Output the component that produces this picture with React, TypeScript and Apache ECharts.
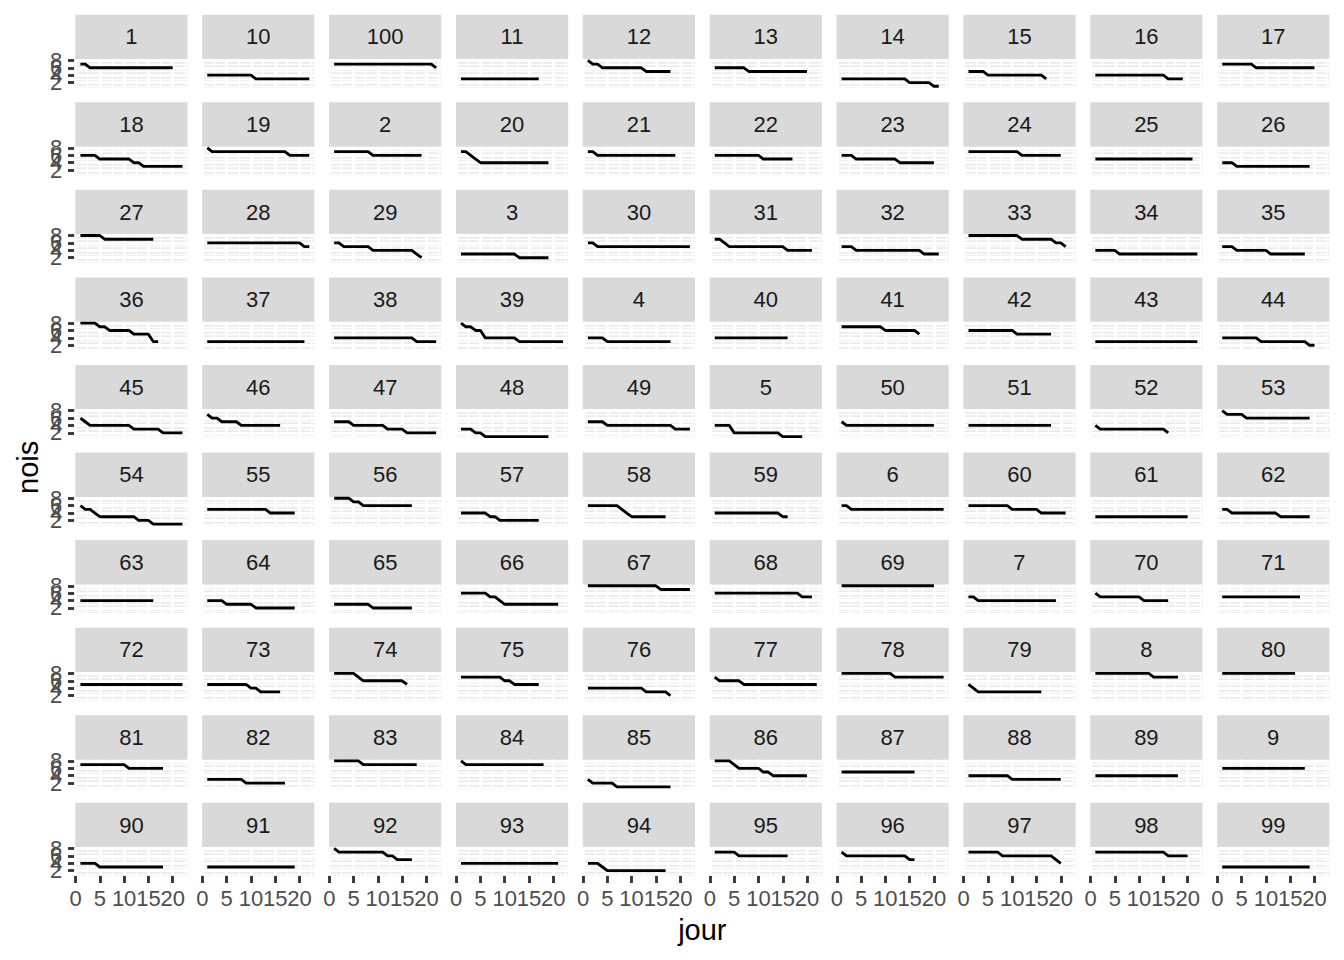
import React, { useEffect, useRef } from "react";
import * as echarts from "echarts";

// ---- data ----
const jours = [1, 2, 3, 4, 5, 6, 7, 8, 9, 10, 11, 12, 13, 14, 15, 16, 17, 18, 19, 20, 21, 22];
const individus = [
  "1", "10", "100", "11", "12", "13", "14", "15", "16", "17",
  "18", "19", "2", "20", "21", "22", "23", "24", "25", "26",
  "27", "28", "29", "3", "30", "31", "32", "33", "34", "35",
  "36", "37", "38", "39", "4", "40", "41", "42", "43", "44",
  "45", "46", "47", "48", "49", "5", "50", "51", "52", "53",
  "54", "55", "56", "57", "58", "59", "6", "60", "61", "62",
  "63", "64", "65", "66", "67", "68", "69", "7", "70", "71",
  "72", "73", "74", "75", "76", "77", "78", "79", "8", "80",
  "81", "82", "83", "84", "85", "86", "87", "88", "89", "9",
  "90", "91", "92", "93", "94", "95", "96", "97", "98", "99",
];
const xTicks = [0, 5, 10, 15, 20];
const xMinor = [2.5, 7.5, 12.5, 17.5, 22.5];
const yTicks = [2, 4, 6, 8];
const yMinor = [1, 3, 5, 7];

const n1 = [7, 7, 6, 6, 6, 6, 6, 6, 6, 6, 6, 6, 6, 6, 6, 6, 6, 6, 6, 6];
const n10 = [4, 4, 4, 4, 4, 4, 4, 4, 4, 4, 3, 3, 3, 3, 3, 3, 3, 3, 3, 3, 3, 3];
const n100 = [7, 7, 7, 7, 7, 7, 7, 7, 7, 7, 7, 7, 7, 7, 7, 7, 7, 7, 7, 7, 7, 6];
const n11 = [3, 3, 3, 3, 3, 3, 3, 3, 3, 3, 3, 3, 3, 3, 3, 3, 3];
const n12 = [8, 7, 7, 6, 6, 6, 6, 6, 6, 6, 6, 6, 5, 5, 5, 5, 5, 5];
const n13 = [6, 6, 6, 6, 6, 6, 6, 5, 5, 5, 5, 5, 5, 5, 5, 5, 5, 5, 5, 5];
const n14 = [3, 3, 3, 3, 3, 3, 3, 3, 3, 3, 3, 3, 3, 3, 2, 2, 2, 2, 2, 1, 1];
const n15 = [5, 5, 5, 5, 4, 4, 4, 4, 4, 4, 4, 4, 4, 4, 4, 4, 3];
const n16 = [4, 4, 4, 4, 4, 4, 4, 4, 4, 4, 4, 4, 4, 4, 4, 3, 3, 3, 3];
const n17 = [7, 7, 7, 7, 7, 7, 7, 6, 6, 6, 6, 6, 6, 6, 6, 6, 6, 6, 6, 6];
const n18 = [6, 6, 6, 6, 5, 5, 5, 5, 5, 5, 5, 4, 4, 3, 3, 3, 3, 3, 3, 3, 3, 3];
const n19 = [8, 7, 7, 7, 7, 7, 7, 7, 7, 7, 7, 7, 7, 7, 7, 7, 7, 6, 6, 6, 6, 6];
const n2 = [7, 7, 7, 7, 7, 7, 7, 7, 6, 6, 6, 6, 6, 6, 6, 6, 6, 6, 6];
const n20 = [7, 7, 6, 5, 4, 4, 4, 4, 4, 4, 4, 4, 4, 4, 4, 4, 4, 4, 4];
const n21 = [7, 7, 6, 6, 6, 6, 6, 6, 6, 6, 6, 6, 6, 6, 6, 6, 6, 6, 6];
const n22 = [6, 6, 6, 6, 6, 6, 6, 6, 6, 6, 5, 5, 5, 5, 5, 5, 5];
const n23 = [6, 6, 6, 5, 5, 5, 5, 5, 5, 5, 5, 5, 4, 4, 4, 4, 4, 4, 4, 4];
const n24 = [7, 7, 7, 7, 7, 7, 7, 7, 7, 7, 7, 6, 6, 6, 6, 6, 6, 6, 6, 6];
const n25 = [5, 5, 5, 5, 5, 5, 5, 5, 5, 5, 5, 5, 5, 5, 5, 5, 5, 5, 5, 5, 5];
const n26 = [4, 4, 4, 3, 3, 3, 3, 3, 3, 3, 3, 3, 3, 3, 3, 3, 3, 3, 3];
const n27 = [8, 8, 8, 8, 8, 7, 7, 7, 7, 7, 7, 7, 7, 7, 7, 7];
const n28 = [6, 6, 6, 6, 6, 6, 6, 6, 6, 6, 6, 6, 6, 6, 6, 6, 6, 6, 6, 6, 5, 5];
const n29 = [6, 6, 5, 5, 5, 5, 5, 5, 4, 4, 4, 4, 4, 4, 4, 4, 4, 3, 2];
const n3 = [3, 3, 3, 3, 3, 3, 3, 3, 3, 3, 3, 3, 2, 2, 2, 2, 2, 2, 2];
const n30 = [6, 6, 5, 5, 5, 5, 5, 5, 5, 5, 5, 5, 5, 5, 5, 5, 5, 5, 5, 5, 5, 5];
const n31 = [7, 7, 6, 5, 5, 5, 5, 5, 5, 5, 5, 5, 5, 5, 5, 4, 4, 4, 4, 4, 4];
const n32 = [5, 5, 5, 4, 4, 4, 4, 4, 4, 4, 4, 4, 4, 4, 4, 4, 4, 3, 3, 3, 3];
const n33 = [8, 8, 8, 8, 8, 8, 8, 8, 8, 8, 8, 7, 7, 7, 7, 7, 7, 7, 6, 6, 5];
const n34 = [4, 4, 4, 4, 4, 3, 3, 3, 3, 3, 3, 3, 3, 3, 3, 3, 3, 3, 3, 3, 3, 3];
const n35 = [5, 5, 5, 4, 4, 4, 4, 4, 4, 4, 3, 3, 3, 3, 3, 3, 3, 3];
const n36 = [8, 8, 8, 8, 7, 7, 6, 6, 6, 6, 6, 5, 5, 5, 5, 3, 3];
const n37 = [3, 3, 3, 3, 3, 3, 3, 3, 3, 3, 3, 3, 3, 3, 3, 3, 3, 3, 3, 3, 3];
const n38 = [4, 4, 4, 4, 4, 4, 4, 4, 4, 4, 4, 4, 4, 4, 4, 4, 4, 3, 3, 3, 3, 3];
const n39 = [8, 7, 7, 6, 6, 4, 4, 4, 4, 4, 4, 4, 3, 3, 3, 3, 3, 3, 3, 3, 3, 3];
const n4 = [4, 4, 4, 4, 3, 3, 3, 3, 3, 3, 3, 3, 3, 3, 3, 3, 3, 3];
const n40 = [4, 4, 4, 4, 4, 4, 4, 4, 4, 4, 4, 4, 4, 4, 4, 4];
const n41 = [7, 7, 7, 7, 7, 7, 7, 7, 7, 6, 6, 6, 6, 6, 6, 6, 5];
const n42 = [6, 6, 6, 6, 6, 6, 6, 6, 6, 6, 5, 5, 5, 5, 5, 5, 5, 5];
const n43 = [3, 3, 3, 3, 3, 3, 3, 3, 3, 3, 3, 3, 3, 3, 3, 3, 3, 3, 3, 3, 3, 3];
const n44 = [4, 4, 4, 4, 4, 4, 4, 4, 3, 3, 3, 3, 3, 3, 3, 3, 3, 3, 2, 2];
const n45 = [6, 5, 4, 4, 4, 4, 4, 4, 4, 4, 4, 3, 3, 3, 3, 3, 3, 2, 2, 2, 2, 2];
const n46 = [7, 6, 6, 5, 5, 5, 5, 4, 4, 4, 4, 4, 4, 4, 4, 4];
const n47 = [5, 5, 5, 5, 4, 4, 4, 4, 4, 4, 4, 3, 3, 3, 3, 2, 2, 2, 2, 2, 2, 2];
const n48 = [3, 3, 3, 2, 2, 1, 1, 1, 1, 1, 1, 1, 1, 1, 1, 1, 1, 1, 1];
const n49 = [5, 5, 5, 5, 4, 4, 4, 4, 4, 4, 4, 4, 4, 4, 4, 4, 4, 4, 3, 3, 3, 3];
const n5 = [4, 4, 4, 4, 2, 2, 2, 2, 2, 2, 2, 2, 2, 2, 1, 1, 1, 1, 1];
const n50 = [5, 4, 4, 4, 4, 4, 4, 4, 4, 4, 4, 4, 4, 4, 4, 4, 4, 4, 4, 4];
const n51 = [4, 4, 4, 4, 4, 4, 4, 4, 4, 4, 4, 4, 4, 4, 4, 4, 4, 4];
const n52 = [4, 3, 3, 3, 3, 3, 3, 3, 3, 3, 3, 3, 3, 3, 3, 2];
const n53 = [8, 7, 7, 7, 7, 6, 6, 6, 6, 6, 6, 6, 6, 6, 6, 6, 6, 6, 6];
const n54 = [6, 5, 5, 4, 3, 3, 3, 3, 3, 3, 3, 3, 2, 2, 2, 1, 1, 1, 1, 1, 1, 1];
const n55 = [5, 5, 5, 5, 5, 5, 5, 5, 5, 5, 5, 5, 5, 4, 4, 4, 4, 4, 4];
const n56 = [8, 8, 8, 8, 7, 7, 6, 6, 6, 6, 6, 6, 6, 6, 6, 6, 6];
const n57 = [4, 4, 4, 4, 4, 4, 3, 3, 2, 2, 2, 2, 2, 2, 2, 2, 2];
const n58 = [6, 6, 6, 6, 6, 6, 6, 5, 4, 3, 3, 3, 3, 3, 3, 3, 3];
const n59 = [4, 4, 4, 4, 4, 4, 4, 4, 4, 4, 4, 4, 4, 4, 3, 3];
const n6 = [6, 6, 5, 5, 5, 5, 5, 5, 5, 5, 5, 5, 5, 5, 5, 5, 5, 5, 5, 5, 5, 5];
const n60 = [6, 6, 6, 6, 6, 6, 6, 6, 6, 5, 5, 5, 5, 5, 5, 4, 4, 4, 4, 4, 4];
const n61 = [3, 3, 3, 3, 3, 3, 3, 3, 3, 3, 3, 3, 3, 3, 3, 3, 3, 3, 3, 3];
const n62 = [5, 5, 4, 4, 4, 4, 4, 4, 4, 4, 4, 4, 3, 3, 3, 3, 3, 3, 3];
const n63 = [4, 4, 4, 4, 4, 4, 4, 4, 4, 4, 4, 4, 4, 4, 4, 4];
const n64 = [4, 4, 4, 4, 3, 3, 3, 3, 3, 3, 2, 2, 2, 2, 2, 2, 2, 2, 2];
const n65 = [3, 3, 3, 3, 3, 3, 3, 3, 2, 2, 2, 2, 2, 2, 2, 2, 2];
const n66 = [6, 6, 6, 6, 6, 6, 5, 5, 4, 3, 3, 3, 3, 3, 3, 3, 3, 3, 3, 3, 3];
const n67 = [8, 8, 8, 8, 8, 8, 8, 8, 8, 8, 8, 8, 8, 8, 8, 7, 7, 7, 7, 7, 7, 7];
const n68 = [6, 6, 6, 6, 6, 6, 6, 6, 6, 6, 6, 6, 6, 6, 6, 6, 6, 6, 5, 5, 5];
const n69 = [8, 8, 8, 8, 8, 8, 8, 8, 8, 8, 8, 8, 8, 8, 8, 8, 8, 8, 8, 8];
const n7 = [5, 5, 4, 4, 4, 4, 4, 4, 4, 4, 4, 4, 4, 4, 4, 4, 4, 4, 4];
const n70 = [6, 5, 5, 5, 5, 5, 5, 5, 5, 5, 4, 4, 4, 4, 4, 4];
const n71 = [5, 5, 5, 5, 5, 5, 5, 5, 5, 5, 5, 5, 5, 5, 5, 5, 5];
const n72 = [5, 5, 5, 5, 5, 5, 5, 5, 5, 5, 5, 5, 5, 5, 5, 5, 5, 5, 5, 5, 5, 5];
const n73 = [5, 5, 5, 5, 5, 5, 5, 5, 5, 4, 4, 3, 3, 3, 3, 3];
const n74 = [8, 8, 8, 8, 8, 7, 6, 6, 6, 6, 6, 6, 6, 6, 6, 5];
const n75 = [7, 7, 7, 7, 7, 7, 7, 7, 7, 6, 6, 5, 5, 5, 5, 5, 5];
const n76 = [4, 4, 4, 4, 4, 4, 4, 4, 4, 4, 4, 4, 3, 3, 3, 3, 3, 2];
const n77 = [7, 6, 6, 6, 6, 6, 5, 5, 5, 5, 5, 5, 5, 5, 5, 5, 5, 5, 5, 5, 5, 5];
const n78 = [8, 8, 8, 8, 8, 8, 8, 8, 8, 8, 8, 7, 7, 7, 7, 7, 7, 7, 7, 7, 7, 7];
const n79 = [5, 4, 3, 3, 3, 3, 3, 3, 3, 3, 3, 3, 3, 3, 3, 3];
const n8 = [8, 8, 8, 8, 8, 8, 8, 8, 8, 8, 8, 8, 7, 7, 7, 7, 7, 7];
const n80 = [8, 8, 8, 8, 8, 8, 8, 8, 8, 8, 8, 8, 8, 8, 8, 8];
const n81 = [7, 7, 7, 7, 7, 7, 7, 7, 7, 7, 6, 6, 6, 6, 6, 6, 6, 6];
const n82 = [3, 3, 3, 3, 3, 3, 3, 3, 2, 2, 2, 2, 2, 2, 2, 2, 2];
const n83 = [8, 8, 8, 8, 8, 8, 7, 7, 7, 7, 7, 7, 7, 7, 7, 7, 7, 7];
const n84 = [8, 7, 7, 7, 7, 7, 7, 7, 7, 7, 7, 7, 7, 7, 7, 7, 7, 7];
const n85 = [3, 2, 2, 2, 2, 2, 1, 1, 1, 1, 1, 1, 1, 1, 1, 1, 1, 1];
const n86 = [8, 8, 8, 8, 7, 6, 6, 6, 6, 6, 5, 5, 4, 4, 4, 4, 4, 4, 4, 4];
const n87 = [5, 5, 5, 5, 5, 5, 5, 5, 5, 5, 5, 5, 5, 5, 5, 5];
const n88 = [4, 4, 4, 4, 4, 4, 4, 4, 4, 3, 3, 3, 3, 3, 3, 3, 3, 3, 3, 3];
const n89 = [4, 4, 4, 4, 4, 4, 4, 4, 4, 4, 4, 4, 4, 4, 4, 4, 4, 4];
const n9 = [6, 6, 6, 6, 6, 6, 6, 6, 6, 6, 6, 6, 6, 6, 6, 6, 6, 6];
const n90 = [4, 4, 4, 4, 3, 3, 3, 3, 3, 3, 3, 3, 3, 3, 3, 3, 3, 3];
const n91 = [3, 3, 3, 3, 3, 3, 3, 3, 3, 3, 3, 3, 3, 3, 3, 3, 3, 3, 3];
const n92 = [8, 7, 7, 7, 7, 7, 7, 7, 7, 7, 7, 6, 6, 5, 5, 5, 5];
const n93 = [4, 4, 4, 4, 4, 4, 4, 4, 4, 4, 4, 4, 4, 4, 4, 4, 4, 4, 4, 4, 4];
const n94 = [4, 4, 4, 3, 2, 2, 2, 2, 2, 2, 2, 2, 2, 2, 2, 2, 2];
const n95 = [7, 7, 7, 7, 7, 6, 6, 6, 6, 6, 6, 6, 6, 6, 6, 6];
const n96 = [7, 6, 6, 6, 6, 6, 6, 6, 6, 6, 6, 6, 6, 6, 5, 5];
const n97 = [7, 7, 7, 7, 7, 7, 7, 6, 6, 6, 6, 6, 6, 6, 6, 6, 6, 6, 5, 4];
const n98 = [7, 7, 7, 7, 7, 7, 7, 7, 7, 7, 7, 7, 7, 7, 7, 6, 6, 6, 6, 6];
const n99 = [3, 3, 3, 3, 3, 3, 3, 3, 3, 3, 3, 3, 3, 3, 3, 3, 3, 3, 3];

const noisParIndividu = [
  n1, n10, n100, n11, n12, n13, n14, n15, n16, n17,
  n18, n19, n2, n20, n21, n22, n23, n24, n25, n26,
  n27, n28, n29, n3, n30, n31, n32, n33, n34, n35,
  n36, n37, n38, n39, n4, n40, n41, n42, n43, n44,
  n45, n46, n47, n48, n49, n5, n50, n51, n52, n53,
  n54, n55, n56, n57, n58, n59, n6, n60, n61, n62,
  n63, n64, n65, n66, n67, n68, n69, n7, n70, n71,
  n72, n73, n74, n75, n76, n77, n78, n79, n8, n80,
  n81, n82, n83, n84, n85, n86, n87, n88, n89, n9,
  n90, n91, n92, n93, n94, n95, n96, n97, n98, n99,
];

// ---- layout ----
const NCOL = 10;
const PANEL_LEFT = 75.3;
const PANEL_W = 112.2;
const GAP = 14.67;
const TOP = 14.67;
const STRIP_H = 44.4;
const PANEL_H = 28.5;
const X_MIN = -0.05;
const X_MAX = 23.05;
const Y_MIN = 0.65;
const Y_MAX = 8.35;
const FONT = '"Liberation Sans", Arial, Helvetica, sans-serif';
const MAJOR_W = 2.84;
const MINOR_W = 1.42;

export default function App() {
  const ref = useRef<HTMLDivElement>(null);
  useEffect(() => {
    document.body.style.margin = "0";
    const chart = echarts.init(ref.current!, null, { renderer: "svg" });
    const grids: any[] = [];
    const xAxes: any[] = [];
    const yAxes: any[] = [];
    const series: any[] = [];
    const graphics: any[] = [];
    const nRows = Math.ceil(individus.length / NCOL);

    individus.forEach((id, i) => {
      const r = Math.floor(i / NCOL);
      const c = i % NCOL;
      const left = PANEL_LEFT + c * (PANEL_W + GAP);
      const stripTop = TOP + r * (STRIP_H + PANEL_H + GAP);
      const top = stripTop + STRIP_H;
      const bottomRow = r === nRows - 1;
      grids.push({
        left,
        top,
        width: PANEL_W,
        height: PANEL_H,
        show: true,
        backgroundColor: "#EBEBEB",
        borderWidth: 0,
        containLabel: false,
        outerBoundsMode: "none",
      });
      xAxes.push({
        type: "value",
        gridIndex: i,
        min: X_MIN,
        max: X_MAX,
        axisLine: { show: false },
        splitLine: { show: false },
        axisTick: {
          show: bottomRow,
          customValues: xTicks,
          length: 7.3,
          lineStyle: { color: "#333333", width: MAJOR_W },
        },
        axisLabel: {
          show: bottomRow,
          customValues: xTicks,
          margin: 12,
          color: "#4D4D4D",
          fontSize: 22,
          fontFamily: FONT,
          showMinLabel: true,
          showMaxLabel: true,
          hideOverlap: false,
        },
      });
      // main y axis of the panel (scale only)
      const yIndex = yAxes.length;
      yAxes.push({
        type: "value",
        gridIndex: i,
        position: "left",
        offset: 0,
        min: Y_MIN,
        max: Y_MAX,
        axisLine: { show: false },
        splitLine: { show: false },
        axisTick: { show: false },
        axisLabel: { show: false },
      });
      // first column: one label axis per tick so the overlapping labels all show
      if (c === 0) {
        yTicks.forEach((t) => {
          yAxes.push({
            type: "value",
            gridIndex: i,
            position: "left",
            offset: 0,
            min: Y_MIN,
            max: Y_MAX,
            axisLine: { show: false },
            splitLine: { show: false },
            axisTick: {
              show: true,
              customValues: [t],
              length: 7.3,
              lineStyle: { color: "#333333", width: MAJOR_W },
            },
            axisLabel: {
              show: true,
              customValues: [t],
              margin: 13,
              color: "#4D4D4D",
              fontSize: 22,
              fontFamily: FONT,
              showMinLabel: true,
              showMaxLabel: true,
            },
          });
        });
      }
      const gridLines: any[] = [];
      xTicks.forEach((v) => gridLines.push({ xAxis: v, lineStyle: { width: MAJOR_W } }));
      xMinor.forEach((v) => gridLines.push({ xAxis: v, lineStyle: { width: MINOR_W } }));
      yTicks.forEach((v) => gridLines.push({ yAxis: v, lineStyle: { width: MAJOR_W } }));
      yMinor.forEach((v) => gridLines.push({ yAxis: v, lineStyle: { width: MINOR_W } }));
      series.push({
        type: "line",
        xAxisIndex: i,
        yAxisIndex: yIndex,
        data: [],
        z: 1,
        silent: true,
        markLine: {
          silent: true,
          z: 1,
          symbol: "none",
          label: { show: false },
          emphasis: { disabled: true },
          lineStyle: { color: "#FFFFFF", type: "solid", width: MAJOR_W },
          data: gridLines,
        },
      });
      const vals = noisParIndividu[i];
      series.push({
        type: "line",
        name: id,
        xAxisIndex: i,
        yAxisIndex: yIndex,
        z: 10,
        showSymbol: false,
        symbol: "none",
        silent: true,
        clip: false,
        lineStyle: { color: "#000000", width: MAJOR_W, join: "round", cap: "butt" },
        data: vals.map((v, k) => [jours[k], v]),
      });
      graphics.push({
        type: "rect",
        shape: { x: left, y: stripTop, width: PANEL_W, height: STRIP_H },
        style: { fill: "#D9D9D9" },
        silent: true,
      });
      graphics.push({
        type: "text",
        x: left + PANEL_W / 2,
        y: stripTop + STRIP_H / 2,
        silent: true,
        style: {
          text: id,
          fill: "#1A1A1A",
          fontSize: 22,
          fontFamily: FONT,
          align: "center",
          verticalAlign: "middle",
        },
      });
    });

    const panelsRight = PANEL_LEFT + NCOL * PANEL_W + (NCOL - 1) * GAP;
    const panelsBottom = TOP + nRows * (STRIP_H + PANEL_H) + (nRows - 1) * GAP;
    graphics.push({
      type: "text",
      x: (PANEL_LEFT + panelsRight) / 2,
      y: 930,
      silent: true,
      style: {
        text: "jour",
        fill: "#000000",
        fontSize: 29,
        fontFamily: FONT,
        align: "center",
        verticalAlign: "middle",
      },
    });
    graphics.push({
      type: "text",
      x: 28,
      y: (TOP + STRIP_H + panelsBottom) / 2,
      rotation: Math.PI / 2,
      silent: true,
      style: {
        text: "nois",
        fill: "#000000",
        fontSize: 29,
        fontFamily: FONT,
        align: "center",
        verticalAlign: "middle",
      },
    });

    chart.setOption({
      animation: false,
      backgroundColor: "#FFFFFF",
      textStyle: { fontFamily: FONT },
      grid: grids,
      xAxis: xAxes,
      yAxis: yAxes,
      series,
      graphic: graphics,
    });
    return () => chart.dispose();
  }, []);
  return (
    <div
      ref={ref}
      style={{ position: "absolute", left: 0, top: 0, width: 1344, height: 960 }}
    />
  );
}
